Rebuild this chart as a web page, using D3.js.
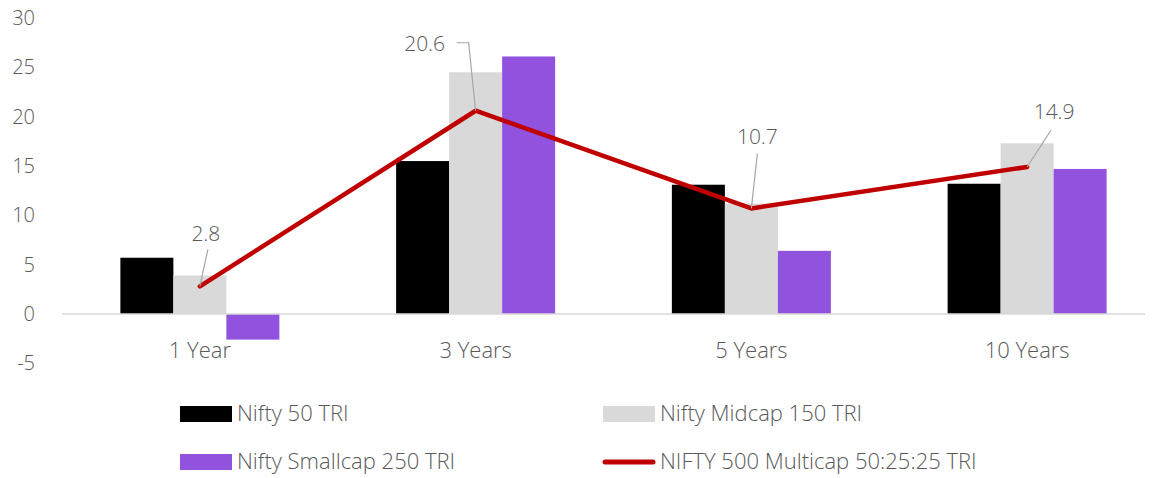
<!DOCTYPE html>
<html>
<head>
<meta charset="utf-8">
<script src="https://d3js.org/d3.v7.min.js"></script>
<style>
  body { margin: 0; background: #fff; }
  svg text { font-family: 'Open Sans', sans-serif; font-weight: 300; fill: #595959; }
</style>
</head>
<body>
<script>
// Chart data
const categories = ['1 Year', '3 Years', '5 Years', '10 Years']
const nifty50 = [5.7, 15.5, 13.1, 13.2]
const midcap150 = [3.9, 24.5, 11.2, 17.3]
const smallcap250 = [-2.6, 26.1, 6.4, 14.7]
const multicap = [2.8, 20.6, 10.7, 14.9]
const yTicks = [-5, 0, 5, 10, 15, 20, 25, 30]

const barSeries = [
  { name: 'Nifty 50 TRI', values: nifty50, color: '#000000' },
  { name: 'Nifty Midcap 150 TRI', values: midcap150, color: '#d9d9d9' },
  { name: 'Nifty Smallcap 250 TRI', values: smallcap250, color: '#9152de' }
]
const lineName = 'NIFTY 500 Multicap 50:25:25 TRI'

// label offsets from the point (dx, dy of label centre) and leader line bends
const labelSpots = [
  { dx: 6, dy: -53, leader: [[8, -37], [0, 0]] },
  { dx: -51, dy: -67, leader: [[-19, -68], [-7, -68], [0, 0]] },
  { dx: 6, dy: -72, leader: [[6, -55], [0, 0]] },
  { dx: 27, dy: -55, leader: [[24, -37], [0, 0]] }
]

const width = 1153
const height = 478

const svg = d3.select('body').append('svg')
  .attr('width', width)
  .attr('height', height)

const x = d3.scaleBand()
  .domain(categories)
  .range([62, 1165])

const y = d3.scaleLinear()
  .domain([-5, 30])
  .range([363.3, 18])

const inner = d3.scaleBand()
  .domain(d3.range(barSeries.length))
  .range([0, 159])

const groupOffset = (x.bandwidth() - 159) / 2

// y tick labels
svg.append('g')
  .selectAll('text')
  .data(yTicks)
  .join('text')
  .attr('x', 35)
  .attr('y', d => y(d))
  .attr('dy', '0.35em')
  .attr('text-anchor', 'end')
  .attr('font-size', 20)
  .text(d => d)

// bars
barSeries.forEach((s, si) => {
  svg.append('g')
    .selectAll('rect')
    .data(s.values)
    .join('rect')
    .attr('x', (d, i) => x(categories[i]) + groupOffset + inner(si))
    .attr('width', inner.bandwidth())
    .attr('y', d => Math.min(y(d), y(0)))
    .attr('height', d => Math.abs(y(d) - y(0)))
    .attr('fill', s.color)
})

// zero line
svg.append('line')
  .attr('x1', 62)
  .attr('x2', 1145)
  .attr('y1', y(0))
  .attr('y2', y(0))
  .style('stroke', '#d9d9d9')
  .style('stroke-width', 1.5)

// category labels
svg.append('g')
  .selectAll('text')
  .data(categories)
  .join('text')
  .attr('x', d => x(d) + x.bandwidth() / 2)
  .attr('y', 350)
  .attr('dy', '0.35em')
  .attr('text-anchor', 'middle')
  .attr('font-size', 22)
  .text(d => d)

// line series
const px = (i) => x(categories[i]) + x.bandwidth() / 2
const line = d3.line()
  .x((d, i) => px(i))
  .y(d => y(d))

svg.append('path')
  .datum(multicap)
  .attr('d', line)
  .attr('fill', 'none')
  .attr('stroke', '#c00000')
  .attr('stroke-width', 4.5)
  .attr('stroke-linejoin', 'round')
  .attr('stroke-linecap', 'round')

// data labels with leader lines
multicap.forEach((v, i) => {
  const cx = px(i)
  const cy = y(v)
  const spot = labelSpots[i]
  svg.append('path')
    .attr('d', d3.line()(spot.leader.map(p => [cx + p[0], cy + p[1]])))
    .attr('fill', 'none')
    .attr('stroke', '#a6a6a6')
    .attr('stroke-width', 1.2)
  svg.append('text')
    .attr('x', cx + spot.dx)
    .attr('y', cy + spot.dy)
    .attr('dy', '0.35em')
    .attr('text-anchor', 'middle')
    .attr('font-size', 21)
    .text(v.toFixed(1))
})

// legend
const legendItems = [
  { name: barSeries[0].name, color: barSeries[0].color, type: 'rect', x: 180, y: 414 },
  { name: barSeries[1].name, color: barSeries[1].color, type: 'rect', x: 603, y: 414 },
  { name: barSeries[2].name, color: barSeries[2].color, type: 'rect', x: 180, y: 462 },
  { name: lineName, color: '#c00000', type: 'line', x: 603, y: 462 }
]

const legend = svg.append('g')
  .selectAll('g')
  .data(legendItems)
  .join('g')
  .attr('transform', d => `translate(${d.x},${d.y})`)

legend.filter(d => d.type === 'rect')
  .append('rect')
  .attr('x', 0)
  .attr('y', -8)
  .attr('width', 52)
  .attr('height', 16)
  .attr('fill', d => d.color)

legend.filter(d => d.type === 'line')
  .append('line')
  .attr('x1', 2)
  .attr('x2', 50)
  .attr('y1', 0)
  .attr('y2', 0)
  .attr('stroke', d => d.color)
  .attr('stroke-width', 5)
  .attr('stroke-linecap', 'round')

legend.append('text')
  .attr('x', 57)
  .attr('y', 0)
  .attr('dy', '0.34em')
  .attr('font-size', 22)
  .text(d => d.name)
</script>
</body>
</html>
